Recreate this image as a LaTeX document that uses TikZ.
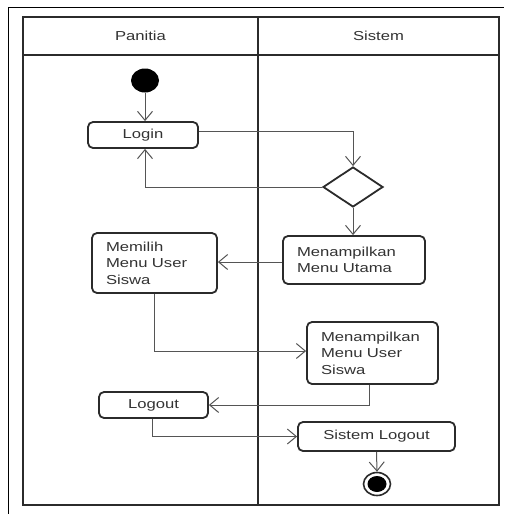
\documentclass[tikz,border=0pt]{standalone}
\usepackage{fontspec}
\usetikzlibrary{arrows.meta,shapes.geometric,calc}
\newfontfamily\lblfont[FakeStretch=1.28]{Liberation Sans}
\definecolor{ink}{HTML}{2B2B2B}
\definecolor{wire}{HTML}{555555}
\definecolor{txt}{HTML}{333333}
\tikzset{
  lane/.style={draw=ink, line width=2.4pt},
  frame/.style={draw=black, line width=1pt},
  actbox/.style={draw=ink, line width=1.8pt, rounded corners=5pt, fill=white,
    inner sep=0pt, text=txt, font=\lblfont\fontsize{13}{16.5}\selectfont},
  multibox/.style={actbox, align=left, inner xsep=14pt},
  decision/.style={draw=ink, line width=1.8pt, diamond, fill=white, inner sep=0pt},
  flow/.style={draw=wire, line width=1pt,
    -{Straight Barb[length=9pt,width=15pt,line width=1pt]}},
  lanetitle/.style={text=txt, font=\lblfont\fontsize{13}{16}\selectfont},
}
\begin{document}
\begin{tikzpicture}[x=1pt,y=-1pt]
\useasboundingbox[fill=white] (0,0) rectangle (504,514);

% outer frame, running off the right and bottom edges
\draw[frame] (8,514) -- (8,7) -- (504,7);

% swimlane grid
\draw[lane] (23,17) rectangle (499,505);
\draw[lane] (23,55) -- (499,55);
\draw[lane] (258,17) -- (258,505);
\node[lanetitle] (lanePanitia) at (140.5,36) {Panitia};
\node[lanetitle] (laneSistem) at (378.5,36) {Sistem};

% start and end states
\fill[black] (145,80.5) ellipse [x radius=14, y radius=12];
\coordinate (startS) at (145,92.5);
\node[ellipse, draw=ink, line width=1.6pt, minimum width=27pt, minimum height=23pt,
  inner sep=0pt] (finish) at (377,484) {};
\fill[black] (finish.center) ellipse [x radius=9.5, y radius=8];

% activities
\node[actbox, minimum width=110pt, minimum height=26pt] (login) at (143,135) {Login};
\node[decision, minimum width=60pt, minimum height=40pt] (dec) at (353,187) {};
\node[multibox, minimum width=142pt, minimum height=48pt, text width=114pt]
  (utama) at (354,260) {Menampilkan\\Menu Utama};
\node[multibox, minimum width=125pt, minimum height=60pt, text width=97pt]
  (memilih) at (154.5,263) {Memilih\\Menu User\\Siswa};
\node[multibox, minimum width=131pt, minimum height=62pt, text width=103pt]
  (mus) at (372.5,353) {Menampilkan\\Menu User\\Siswa};
\node[actbox, minimum width=109pt, minimum height=26pt] (logout) at (153.5,405) {Logout};
\node[actbox, minimum width=157pt, minimum height=29pt] (slogout) at (376.5,436.5) {Sistem Logout};

% control flow
\draw[flow] (startS) -- (startS |- login.north);
\draw[flow] ([yshift=4pt]login.east) -| (dec.north);
\draw[flow] (dec.west) -| ([xshift=2pt]login.south);
\draw[flow] (dec.south) -- (dec.south |- utama.north);
\draw[flow] ([yshift=-2pt]utama.west) -- ([yshift=-2pt]utama.west -| memilih.east);
\draw[flow] (memilih.south) |- ([yshift=2pt]mus.west);
\draw[flow] ([xshift=-3.5pt]mus.south) |- (logout.east);
\draw[flow] ([xshift=-1.5pt]logout.south) |- (slogout.west);
\draw[flow] (slogout.south) -- (finish.north);
\end{tikzpicture}
\end{document}
